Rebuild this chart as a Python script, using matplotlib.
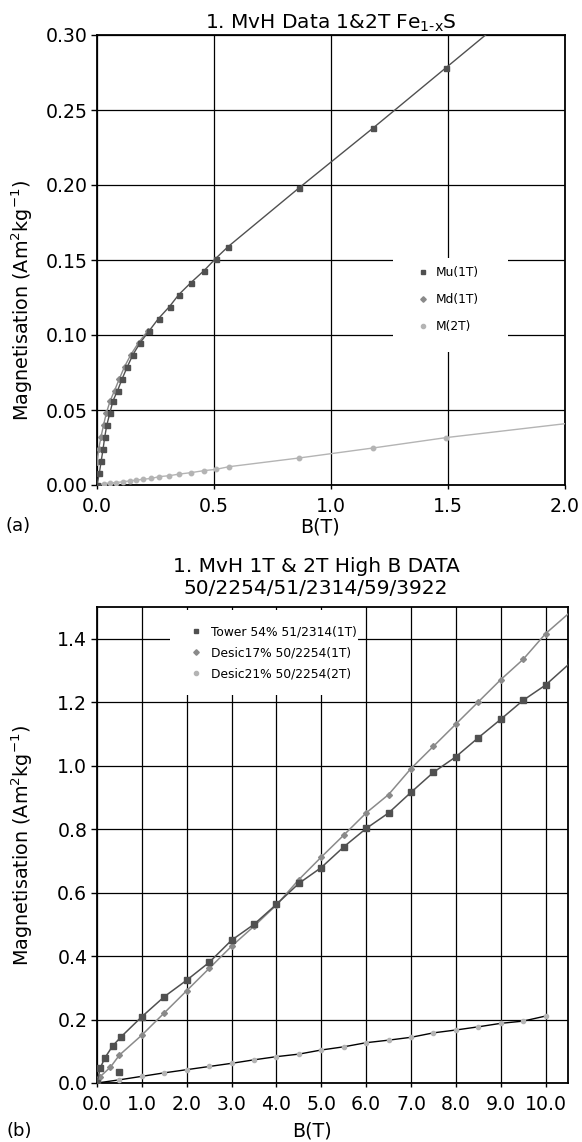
import matplotlib
matplotlib.use("Agg")
import matplotlib.pyplot as plt
from matplotlib.lines import Line2D
from matplotlib.patches import Rectangle
from matplotlib.ticker import FormatStrFormatter

plt.rcParams['font.family'] = ['DejaVu Sans']
plt.rcParams['mathtext.default'] = 'regular'

# ---------------- Panel (a) data ----------------
mu_B = [0, 0.010, 0.018, 0.026, 0.033, 0.042, 0.055, 0.068, 0.088, 0.108, 0.130,
        0.154, 0.185, 0.224, 0.263, 0.310, 0.350, 0.402, 0.458, 0.507, 0.561,
        0.863, 1.180, 1.490, 1.800]
mu_M = [0, 0.008, 0.016, 0.024, 0.032, 0.040, 0.048, 0.056, 0.063, 0.071, 0.079,
        0.087, 0.095, 0.103, 0.111, 0.119, 0.127, 0.135, 0.143, 0.151, 0.159,
        0.198, 0.238, 0.278, 0.318]

md_B = [0, 0.007, 0.017, 0.028, 0.040, 0.056, 0.075, 0.096, 0.118, 0.145, 0.178, 0.218]
md_M = [0.0155, 0.024, 0.032, 0.040, 0.048, 0.056, 0.063, 0.071, 0.079, 0.087, 0.095, 0.103]

m2_B = [0, 0.028, 0.055, 0.083, 0.111, 0.140, 0.168, 0.196, 0.232, 0.267, 0.309,
        0.352, 0.400, 0.458, 0.507, 0.564, 0.863, 1.181, 1.492, 2.200]
m2_M = [0, 0.0009, 0.0013, 0.0016, 0.0022, 0.0027, 0.0033, 0.0038, 0.0044, 0.0056,
        0.0062, 0.0073, 0.0082, 0.0096, 0.0104, 0.0122, 0.0180, 0.0247, 0.0316, 0.0445]

labels_a = ['Mu(1T)', 'Md(1T)', 'M(2T)']
xticks_a = [0.0, 0.5, 1.0, 1.5, 2.0]
yticks_a = [0.00, 0.05, 0.10, 0.15, 0.20, 0.25, 0.30]

# ---------------- Panel (b) data ----------------
tower_B = [0, 0.07, 0.17, 0.35, 0.54, 1.0, 1.5, 2.0, 2.5, 3.0, 3.5, 4.0, 4.5, 5.0,
           5.5, 6.0, 6.5, 7.0, 7.5, 8.0, 8.5, 9.0, 9.5, 10.0, 10.6]
tower_M = [0, 0.046, 0.078, 0.117, 0.146, 0.209, 0.272, 0.324, 0.380, 0.450, 0.500,
           0.563, 0.629, 0.679, 0.744, 0.802, 0.851, 0.916, 0.979, 1.028, 1.088,
           1.146, 1.206, 1.254, 1.330]
tower_extra_B = [0.5]
tower_extra_M = [0.036]

d17_B = [0, 0.07, 0.30, 0.50, 1.0, 1.5, 2.0, 2.5, 3.0, 3.5, 4.0, 4.5, 5.0, 5.5, 6.0,
         6.5, 7.0, 7.5, 8.0, 8.5, 9.0, 9.5, 10.0, 10.6]
d17_M = [0, 0.020, 0.050, 0.088, 0.151, 0.221, 0.291, 0.361, 0.431, 0.494, 0.561,
         0.641, 0.712, 0.781, 0.851, 0.909, 0.991, 1.061, 1.131, 1.201, 1.271,
         1.335, 1.416, 1.490]

d21_B = [0, 0.5, 1.0, 1.5, 2.0, 2.5, 3.0, 3.5, 4.0, 4.5, 5.0, 5.5, 6.0, 6.5, 7.0,
         7.5, 8.0, 8.5, 9.0, 9.5, 10.0]
d21_M = [0, 0.010, 0.021, 0.032, 0.042, 0.052, 0.062, 0.073, 0.083, 0.091, 0.104,
         0.114, 0.127, 0.135, 0.144, 0.158, 0.167, 0.177, 0.188, 0.195, 0.211]

labels_b = ['Tower 54% 51/2314(1T)', 'Desic17% 50/2254(1T)', 'Desic21% 50/2254(2T)']
xticks_b = [0, 1, 2, 3, 4, 5, 6, 7, 8, 9, 10]
yticks_b = [0.0, 0.2, 0.4, 0.6, 0.8, 1.0, 1.2, 1.4]

# ---------------- Figure ----------------
W, H = 582, 1142
fig = plt.figure(figsize=(W / 100, H / 100), dpi=100)


def fx(px):
    return px / W


def fy(py):
    return 1 - py / H


axA = fig.add_axes([fx(97), fy(485), fx(565) - fx(97), fy(35) - fy(485)])
axB = fig.add_axes([fx(97), fy(1083), fx(568) - fx(97), fy(607) - fy(1083)])

TICK_FS = 13.6
LAB_FS = 13.8
LEG_FS = 8.8

c_dark = '#505050'
c_mid = '#8a8a8a'
c_light = '#b4b4b4'


def style(ax):
    ax.set_axisbelow(True)
    ax.grid(True, color='black', lw=0.9)
    for s in ax.spines.values():
        s.set_linewidth(1.3)
    ax.tick_params(axis='y', direction='out', length=4, width=1, labelsize=TICK_FS, pad=3)
    ax.tick_params(axis='x', direction='out', length=3, width=1, labelsize=TICK_FS, pad=6)


# Panel (a)
axA.plot(mu_B, mu_M, color=c_dark, lw=1.0, marker='s', ms=3.6, mfc=c_dark, mec=c_dark, zorder=4)
axA.plot(md_B, md_M, color=c_mid, lw=1.0, marker='D', ms=3.0, mfc=c_mid, mec=c_mid, zorder=3)
axA.plot(m2_B, m2_M, color=c_light, lw=1.0, marker='o', ms=3.2, mfc=c_light, mec=c_light, zorder=3)
axA.set_xlim(0, 2.0)
axA.set_ylim(0, 0.30)
axA.set_xticks(xticks_a)
axA.set_yticks(yticks_a)
axA.xaxis.set_major_formatter(FormatStrFormatter('%.1f'))
axA.yaxis.set_major_formatter(FormatStrFormatter('%.2f'))
style(axA)
axA.add_patch(Rectangle((0.632, 0.296), 0.246, 0.208, transform=axA.transAxes,
                        facecolor='white', edgecolor='none', zorder=1))
hA = [Line2D([], [], ls='none', marker='s', ms=3.3, color=c_dark),
      Line2D([], [], ls='none', marker='D', ms=2.8, color=c_mid),
      Line2D([], [], ls='none', marker='o', ms=3.0, color=c_light)]
axA.legend(hA, labels_a, loc='upper left', bbox_to_anchor=(0.6825, 0.4856),
           frameon=False, borderpad=0, borderaxespad=0, handlelength=1.0,
           handletextpad=0.6, labelspacing=1.14, fontsize=LEG_FS)

# Panel (b)
axB.plot(tower_B, tower_M, color=c_dark, lw=1.1, marker='s', ms=3.8, mfc=c_dark, mec=c_dark, zorder=4)
axB.plot(tower_extra_B, tower_extra_M, ls='none', marker='s', ms=3.8, mfc=c_dark, mec=c_dark, zorder=4)
axB.plot(d17_B, d17_M, color=c_mid, lw=1.1, marker='D', ms=3.0, mfc=c_mid, mec=c_mid, zorder=3)
axB.plot(d21_B, d21_M, color='black', lw=1.0, marker='o', ms=3.0, mfc=c_light, mec=c_light, zorder=3)
axB.set_xlim(0, 10.5)
axB.set_ylim(0, 1.5)
axB.set_xticks(xticks_b)
axB.set_yticks(yticks_b)
axB.xaxis.set_major_formatter(FormatStrFormatter('%.1f'))
axB.yaxis.set_major_formatter(FormatStrFormatter('%.1f'))
style(axB)
axB.add_patch(Rectangle((0.155, 0.815), 0.40, 0.178, transform=axB.transAxes,
                        facecolor='white', edgecolor='none', zorder=1))
hB = [Line2D([], [], ls='none', marker='s', ms=3.3, color=c_dark),
      Line2D([], [], ls='none', marker='D', ms=2.8, color=c_mid),
      Line2D([], [], ls='none', marker='o', ms=3.0, color=c_light)]
axB.legend(hB, labels_b, loc='upper left', bbox_to_anchor=(0.197, 0.961),
           frameon=False, borderpad=0, borderaxespad=0, handlelength=1.0,
           handletextpad=0.75, labelspacing=0.64, fontsize=LEG_FS)

# Titles and labels
fig.text(fx(331), fy(28.3), '1. MvH Data 1&2T Fe$_{1\u2010x}$S', ha='center',
         va='baseline', fontsize=14.5)
fig.text(fx(316), fy(572), '1. MvH 1T & 2T High B DATA', ha='center', va='baseline', fontsize=14.5)
fig.text(fx(316), fy(594), '50/2254/51/2314/59/3922', ha='center', va='baseline', fontsize=14.5)

ylab = 'Magnetisation (Am$^2$kg$^{-1}$)'
fig.text(fx(22), fy(300), ylab, rotation=90, ha='center', va='center', fontsize=LAB_FS)
fig.text(fx(22), fy(845), ylab, rotation=90, ha='center', va='center', fontsize=LAB_FS)

fig.text(fx(320), fy(527), 'B(T)', ha='center', va='center', fontsize=LAB_FS)
fig.text(fx(312), fy(1131), 'B(T)', ha='center', va='center', fontsize=LAB_FS)

fig.text(fx(18), fy(526), '(a)', ha='center', va='center', fontsize=13)
fig.text(fx(19), fy(1131), '(b)', ha='center', va='center', fontsize=13)

fig.savefig('out.png', dpi=100, facecolor='white')
